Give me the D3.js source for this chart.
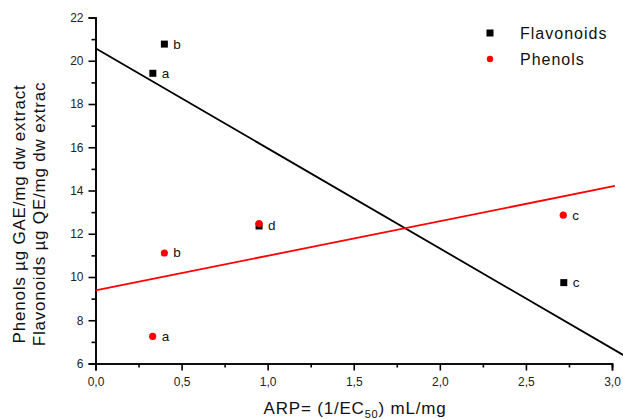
<!DOCTYPE html>
<html><head><meta charset="utf-8">
<script src="https://cdn.jsdelivr.net/npm/d3@7"></script>
<style>
html,body{margin:0;padding:0;background:#fff;}
svg{display:block;font-family:"Liberation Sans",Arial,sans-serif;}
</style></head>
<body>
<svg id="c" width="623" height="419"></svg>
<script>
// ---- data ----
const flavX = [0.333, 0.40, 0.95, 2.72];
const flavY = [19.42, 20.77, 12.36, 9.74];
const flavLabels = ["a", "b", "d", "c"];
const phenX = [0.332, 0.40, 0.95, 2.717];
const phenY = [7.25, 11.11, 12.47, 12.86];
const phenLabels = ["a", "b", "", "c"];
const flavFitX = [0, 3.07];
const flavFitY = [20.58, 6.37];
const phenFitX = [0, 3.017];
const phenFitY = [9.38, 14.21];
const xTicks = [0, 0.5, 1.0, 1.5, 2.0, 2.5, 3.0];
const xTickLabels = ["0,0", "0,5", "1,0", "1,5", "2,0", "2,5", "3,0"];
const yTicks = [6, 8, 10, 12, 14, 16, 18, 20, 22];
const seriesNames = ["Flavonoids", "Phenols"];

// ---- layout ----
const svg = d3.select("#c");
const x = d3.scaleLinear().domain([0, 3]).range([95.5, 612]);
const y = d3.scaleLinear().domain([6, 22]).range([363.5, 17.5]);

// axes
const xAxis = d3.axisBottom(x).tickValues(xTicks).tickSize(7)
  .tickFormat((d, i) => xTickLabels[i]);
const xMinor = d3.axisBottom(x).tickValues(d3.range(0.25, 3, 0.5)).tickSize(4).tickFormat("");
const yAxis = d3.axisLeft(y).tickValues(yTicks).tickSize(7);
const yMinor = d3.axisLeft(y).tickValues(d3.range(7, 22, 2)).tickSize(4).tickFormat("");

function style(g) {
  g.select(".domain").attr("stroke", "#000").attr("stroke-width", 1.6);
  g.selectAll(".tick line").attr("stroke", "#000").attr("stroke-width", 1.6);
  g.selectAll(".tick text").attr("fill", "#222").style("font-size", "12px")
    .style("font-family", "'Liberation Sans',Arial,sans-serif");
}
svg.append("g").attr("transform", `translate(0,${y(6)})`).call(xMinor).call(style);
svg.append("g").attr("transform", `translate(0,${y(6)})`).call(xAxis).call(style)
  .selectAll(".tick text").attr("dy", "1.05em");
svg.append("g").attr("transform", `translate(${x(0)},0)`).call(yMinor).call(style);
svg.append("g").attr("transform", `translate(${x(0)},0)`).call(yAxis).call(style)
  .selectAll(".tick text").attr("x", -12);

// fit lines
const line = d3.line().x(d => x(d[0])).y(d => y(d[1]));
svg.append("path").datum(d3.zip(flavFitX, flavFitY)).attr("d", line)
  .attr("fill", "none").attr("stroke", "#000").attr("stroke-width", 1.8);
svg.append("path").datum(d3.zip(phenFitX, phenFitY)).attr("d", line)
  .attr("fill", "none").attr("stroke", "#ff0000").attr("stroke-width", 1.8);

// flavonoid squares
const fl = d3.zip(flavX, flavY, flavLabels);
svg.append("g").selectAll("rect").data(fl).join("rect")
  .attr("x", d => x(d[0]) - 3.5).attr("y", d => y(d[1]) - 3.5)
  .attr("width", 7).attr("height", 7).attr("fill", "#000");
// phenol dots
const ph = d3.zip(phenX, phenY, phenLabels);
svg.append("g").selectAll("circle").data(ph).join("circle")
  .attr("cx", d => x(d[0])).attr("cy", d => y(d[1])).attr("r", 3.6).attr("fill", "#ff0000");

// point labels
const lab = fl.concat(ph).filter(d => d[2] !== "");
svg.append("g").selectAll("text").data(lab).join("text")
  .attr("x", d => x(d[0]) + 9).attr("y", d => y(d[1]) + 4.5)
  .attr("fill", "#111").style("font-size", "13.5px").text(d => d[2]);

// legend
const lg = svg.append("g");
lg.append("rect").attr("x", 486.5).attr("y", 29.5).attr("width", 7).attr("height", 7).attr("fill", "#000");
lg.append("circle").attr("cx", 490).attr("cy", 59).attr("r", 3.2).attr("fill", "#ff0000");
lg.selectAll("text").data(seriesNames).join("text")
  .attr("x", 520).attr("y", (d, i) => 39 + i * 26)
  .attr("fill", "#111").style("font-size", "16px").style("letter-spacing", "1px")
  .text(d => d);

// x title
const xt = svg.append("text").attr("x", 355).attr("y", 414).attr("text-anchor", "middle")
  .attr("fill", "#111").style("font-size", "17px").style("letter-spacing", "0.8px");
xt.append("tspan").text("ARP= (1/EC");
xt.append("tspan").attr("dy", 3.5).style("font-size", "11px").text("50");
xt.append("tspan").attr("dy", -3.5).text(") mL/mg");

// y title
const ytitles = ["Phenols µg GAE/mg dw extract", "Flavonoids µg QE/mg dw extrac"];
svg.append("g").selectAll("text").data(ytitles).join("text")
  .attr("transform", (d, i) => `translate(${25 + i * 19.5},214) rotate(-90)`)
  .attr("text-anchor", "middle").attr("fill", "#111")
  .style("font-size", "17px").style("letter-spacing", "0.8px").text(d => d);
</script>
</body></html>
